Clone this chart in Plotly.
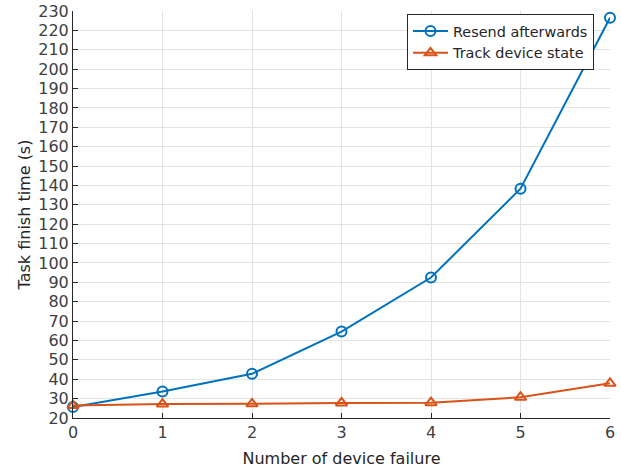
import plotly.graph_objects as go

x_vals = [0, 1, 2, 3, 4, 5, 6]
resend_afterwards = [25.7, 33.7, 42.8, 64.6, 92.5, 138.3, 226.5]
track_device_state = [26.4, 27.2, 27.3, 27.8, 27.9, 30.7, 37.9]
y_ticks = list(range(20, 231, 10))

BLUE = "#0072BD"
ORANGE = "#D95319"
FONT = "DejaVu Sans"

fig = go.Figure()
fig.add_trace(go.Scatter(
    x=x_vals, y=resend_afterwards, mode="lines+markers", name="Resend afterwards",
    line=dict(color=BLUE, width=2),
    marker=dict(symbol="circle-open", size=10, color=BLUE, line=dict(width=2)),
    cliponaxis=False,
))
fig.add_trace(go.Scatter(
    x=x_vals, y=track_device_state, mode="lines+markers", name="Track device state",
    line=dict(color=ORANGE, width=2),
    marker=dict(symbol="triangle-up-open", size=10, color=ORANGE, line=dict(width=2)),
    cliponaxis=False,
))

fig.update_layout(
    width=621, height=474,
    margin=dict(l=73, r=11, t=11, b=56),
    paper_bgcolor="white", plot_bgcolor="white",
    font=dict(family=FONT, size=16, color="#404040"),
    showlegend=True,
    legend=dict(
        x=0.622, y=0.992, xanchor="left", yanchor="top",
        bgcolor="white", bordercolor="#262626", borderwidth=1,
        font=dict(family=FONT, size=14.4, color="#262626"),
        tracegroupgap=0, itemwidth=35,
    ),
)
fig.update_xaxes(
    range=[0, 6], tickvals=x_vals, ticktext=[str(v) for v in x_vals],
    showgrid=True, gridcolor="#e3e3e3", gridwidth=1,
    showline=True, linecolor="#262626", linewidth=1,
    ticks="inside", ticklen=5, tickcolor="#262626",
    zeroline=False, automargin=False,
    title=dict(text="Number of device failure", font=dict(size=16, color="#262626"), standoff=11),
    tickfont=dict(size=16, color="#404040"),
)
fig.update_yaxes(
    range=[20, 230], tickvals=y_ticks, ticktext=[str(v) for v in y_ticks],
    showgrid=True, gridcolor="#e3e3e3", gridwidth=1,
    showline=True, linecolor="#262626", linewidth=1,
    ticks="inside", ticklen=5, tickcolor="#262626",
    zeroline=False, automargin=False,
    title=dict(text="Task finish time (s)", font=dict(size=16, color="#262626"), standoff=3),
    tickfont=dict(size=16, color="#404040"),
)

fig.write_html(
    "out.html",
    config={"displayModeBar": False},
    post_script="document.body.style.margin='0';document.body.style.overflow='hidden';",
)
